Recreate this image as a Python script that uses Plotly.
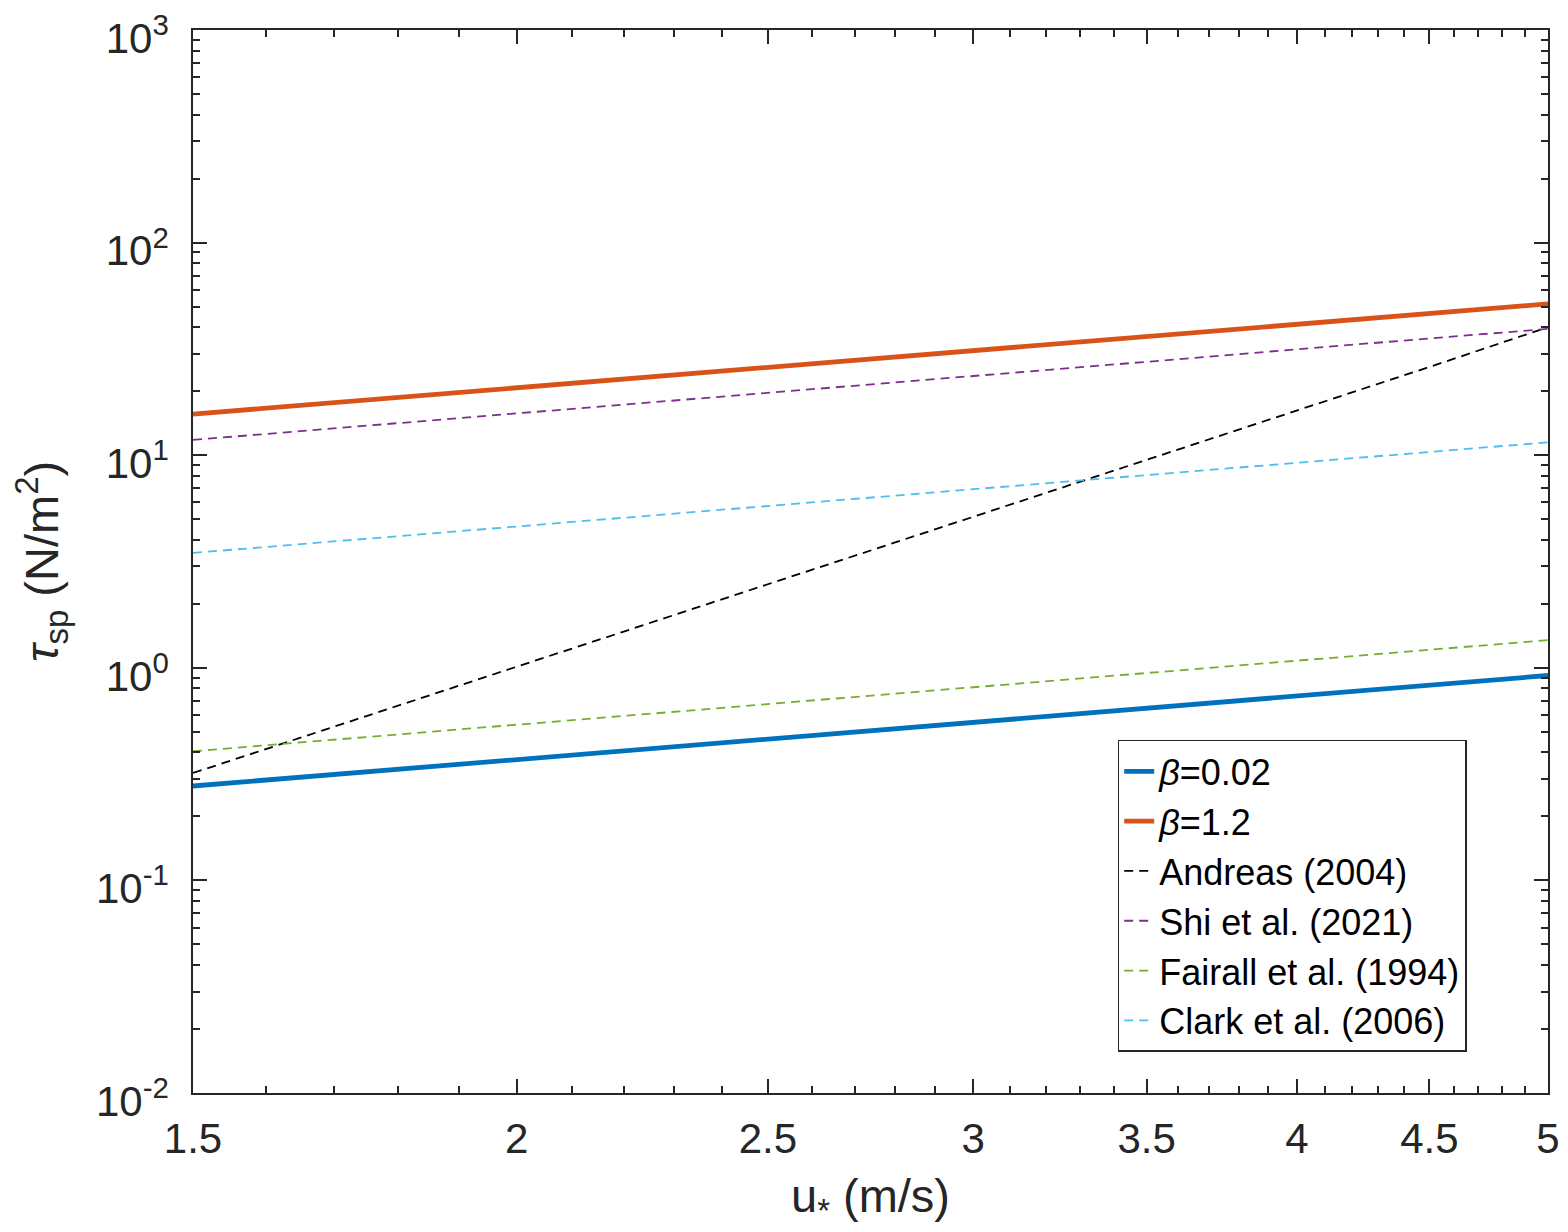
import plotly.graph_objects as go

u_star = [1.5, 2, 2.5, 3, 3.5, 4, 4.5, 5]

# spray stress tau_sp (N/m^2)
beta_002 = [0.278, 0.371, 0.463, 0.556, 0.649, 0.741, 0.834, 0.92]
beta_12 = [15.6, 20.8, 26.0, 31.2, 36.4, 41.6, 46.8, 51.5]
andreas = [0.32, 1.01, 2.47, 5.12, 9.5, 16.2, 26.0, 40.0]
shi = [11.8, 15.7, 19.7, 23.6, 27.5, 31.5, 35.4, 39.3]
fairall = [0.405, 0.54, 0.675, 0.81, 0.945, 1.08, 1.215, 1.35]
clark = [3.47, 4.62, 5.78, 6.93, 8.09, 9.24, 10.4, 11.5]

series = [
    ("<i>β</i>=0.02", beta_002, "#0072BD", 4.8, "solid"),
    ("<i>β</i>=1.2", beta_12, "#D95319", 4.8, "solid"),
    ("Andreas (2004)", andreas, "#000000", 1.8, "9px,6px"),
    ("Shi et al. (2021)", shi, "#7E2F8E", 1.8, "9px,6px"),
    ("Fairall et al. (1994)", fairall, "#77AC30", 1.8, "9px,6px"),
    ("Clark et al. (2006)", clark, "#4DBEEE", 1.8, "9px,6px"),
]

x_ticks = [1.5, 2, 2.5, 3, 3.5, 4, 4.5, 5]
x_ticktext = ["1.5", "2", "2.5", "3", "3.5", "4", "4.5", "5"]
x_minor = [1.6, 1.7, 1.8, 1.9, 2.1, 2.2, 2.3, 2.4, 2.6, 2.7, 2.8, 2.9,
           3.1, 3.2, 3.3, 3.4, 3.6, 3.7, 3.8, 3.9, 4.1, 4.2, 4.3, 4.4,
           4.6, 4.7, 4.8, 4.9]
y_exps = [-2, -1, 0, 1, 2, 3]
y_ticks = [10.0 ** e for e in y_exps]
y_ticktext = ["10<sup>%d</sup>" % e for e in y_exps]
y_minor = [m * 10.0 ** e for e in y_exps[:-1] for m in range(2, 10)]

fig = go.Figure()
for name, vals, col, w, dash in series:
    fig.add_trace(go.Scatter(x=u_star, y=vals, mode="lines", name=name,
                             line=dict(color=col, width=w, dash=dash)))

axcol = "#262626"
family = "Liberation Sans, Arial, sans-serif"
fnt = dict(family=family, size=42, color=axcol)
tfnt = dict(family=family, size=47, color=axcol)

fig.update_xaxes(type="log", range=[0.176091, 0.69897], automargin=False,
                 tickmode="array", tickvals=x_ticks, ticktext=x_ticktext,
                 ticks="inside", ticklen=14, tickwidth=1.5, tickcolor=axcol,
                 ticklabelstandoff=8, ticklabeloverflow="allow",
                 minor=dict(tickmode="array", tickvals=x_minor, ticks="inside",
                            ticklen=7, tickwidth=1.5, tickcolor=axcol),
                 showline=True, linecolor=axcol, linewidth=1.5, mirror="ticks",
                 showgrid=False, zeroline=False, tickfont=fnt,
                 title=dict(text="u<sub>*</sub> (m/s)", font=tfnt, standoff=18))
fig.update_yaxes(type="log", range=[-2, 3], automargin=False,
                 tickmode="array", tickvals=y_ticks, ticktext=y_ticktext,
                 ticks="inside", ticklen=14, tickwidth=1.5, tickcolor=axcol,
                 ticklabelstandoff=14, ticklabelshift=8,
                 ticklabeloverflow="allow",
                 minor=dict(tickmode="array", tickvals=y_minor, ticks="inside",
                            ticklen=7, tickwidth=1.5, tickcolor=axcol),
                 showline=True, linecolor=axcol, linewidth=1.5, mirror="ticks",
                 showgrid=False, zeroline=False, tickfont=fnt,
                 title=dict(text="<i>τ</i><sub>sp</sub> (N/m<sup>2</sup>)",
                            font=tfnt, standoff=30))

fig.update_layout(
    template="none",
    width=1560, height=1224,
    margin=dict(l=185, r=20, t=22, b=139),
    paper_bgcolor="white", plot_bgcolor="white",
    font=fnt,
    legend=dict(x=0.94, y=0.0386, xanchor="right", yanchor="bottom",
                bgcolor="white", bordercolor=axcol, borderwidth=1.5,
                font=dict(family=family, size=36, color="#000000"),
                tracegroupgap=0),
    showlegend=True,
)

fig.write_html("out.html")
